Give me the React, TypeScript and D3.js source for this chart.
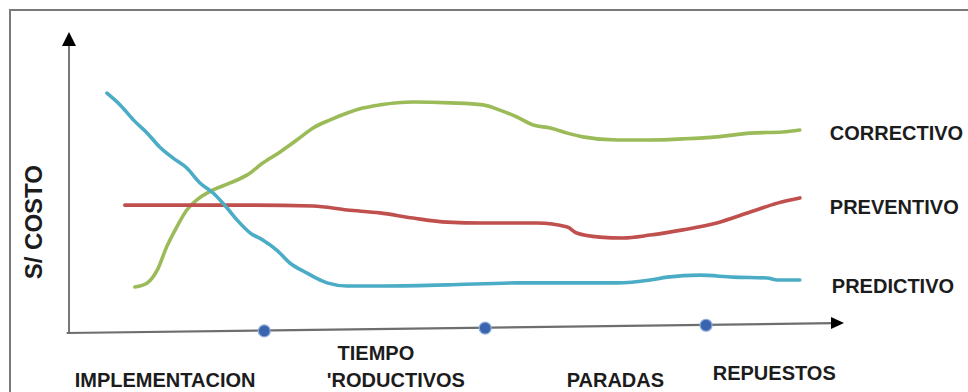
import React from "react";
import * as d3 from "d3";

// ---------- data (x in 0..100 along the time axis, y in 0..100 cost) ----------
const correctivoX = [8.5, 10.1, 11.4, 12.6, 13.9, 15.2, 16.5, 18.6, 20.8, 23.0, 25.0, 27.2, 29.4, 31.5, 33.7, 35.9, 37.9, 40.1, 44.4, 49.2, 53.4, 55.6, 57.8, 59.9, 62.1, 64.3, 66.3, 70.7, 75.0, 79.2, 83.6, 87.9, 92.1, 94.3];
const correctivoY = [16.0, 17.4, 21.9, 29.9, 36.8, 42.7, 46.2, 49.7, 52.1, 54.9, 59.0, 62.8, 67.0, 71.2, 74.0, 76.4, 78.1, 79.2, 80.2, 79.9, 79.2, 77.4, 75.0, 72.2, 71.2, 69.4, 68.1, 67.0, 67.0, 67.4, 68.1, 69.4, 69.8, 70.5];

const preventivoX = [7.2, 14.3, 23.0, 31.5, 35.9, 40.1, 44.4, 48.8, 53.4, 60.4, 64.3, 65.5, 68.5, 71.5, 75.0, 79.2, 83.6, 87.9, 91.4, 94.3];
const preventivoY = [44.4, 44.4, 44.4, 44.1, 42.7, 41.7, 39.9, 38.5, 38.2, 38.2, 36.8, 34.7, 33.3, 33.0, 34.0, 35.8, 38.2, 42.0, 45.1, 46.9];

const predictivoX = [4.9, 6.6, 8.3, 10.1, 11.7, 13.4, 15.2, 16.9, 18.6, 20.4, 21.7, 23.4, 25.0, 26.8, 28.5, 30.7, 32.4, 33.3, 35.9, 40.1, 48.8, 57.8, 66.3, 70.7, 75.0, 77.2, 81.4, 85.7, 90.1, 91.4, 94.3];
const predictivoY = [83.3, 79.2, 74.0, 69.4, 64.6, 60.8, 57.3, 52.1, 48.6, 43.4, 39.2, 34.7, 32.3, 28.8, 24.3, 20.8, 18.4, 17.4, 16.3, 16.3, 16.7, 17.4, 17.4, 17.4, 18.4, 19.4, 20.1, 19.4, 19.1, 18.4, 18.4];

const seriesNames = ["CORRECTIVO", "PREVENTIVO", "PREDICTIVO"];
const seriesColors = ["#9bbb59", "#c0504d", "#4bacc6"];

const axisDots = [25.2, 53.7, 82.2];
const categoryCenters = [12.4, 39.6, 70.5, 91.0];
const categoryLines = [["IMPLEMENTACION"], ["TIEMPO", "'RODUCTIVOS"], ["PARADAS"], ["REPUESTOS"]];

const yLabel = "S/ COSTO";

// ---------- layout ----------
const W = 968;
const H = 392;
const FONT = "'Liberation Sans', Arial, sans-serif";

export default function App() {
  const x = d3.scaleLinear().domain([0, 100]).range([69, 844]);
  const y = d3.scaleLinear().domain([0, 100]).range([333, 45]);

  const axisLeftY = 333;
  const axisRightY = 323;
  const axisStartX = x(-0.3);
  const axisEndX = x(100);
  const axisYAt = (px: number) =>
    axisLeftY + ((px - axisStartX) / (axisEndX - axisStartX)) * (axisRightY - axisLeftY);

  const line = d3
    .line<[number, number]>()
    .x((d) => x(d[0]))
    .y((d) => y(d[1]))
    .curve(d3.curveMonotoneX);

  const series = [
    d3.zip(correctivoX, correctivoY) as [number, number][],
    d3.zip(preventivoX, preventivoY) as [number, number][],
    d3.zip(predictivoX, predictivoY) as [number, number][],
  ];

  const labelOffsets = [
    { dx: 11, dy: 6 },
    { dx: 11, dy: 12 },
    { dx: 13, dy: 9 },
  ];

  const catBaselines = [[387], [360, 387], [387], [380]];
  const catAnchors = ["middle", "middle", "middle", "middle"];

  const yTop = y(100);
  const ax = x(0);

  return (
    <svg
      width={W}
      height={H}
      style={{ position: "absolute", left: 0, top: 0, background: "#fff" }}
      fontFamily={FONT}
    >
      <rect x={0} y={0} width={W} height={H} fill="#ffffff" />
      {/* frame */}
      <rect x={10} y={10} width={W + 40} height={H + 40} fill="none" stroke="#7a7a7a" strokeWidth={2} />

      {/* y axis */}
      <line x1={ax} x2={ax} y1={axisLeftY} y2={yTop} stroke="#555" strokeWidth={1.6} />
      <path d={`M${ax},${yTop - 13} L${ax - 7},${yTop + 1} L${ax + 7},${yTop + 1} Z`} fill="#000" />

      {/* x axis */}
      <line
        x1={axisStartX}
        y1={axisLeftY}
        x2={axisEndX - 10}
        y2={axisYAt(axisEndX - 10)}
        stroke="#6e6e6e"
        strokeWidth={2.2}
      />
      <path
        d={`M${axisEndX},${axisRightY} L${axisEndX - 13},${axisRightY - 6} L${axisEndX - 13},${axisRightY + 6} Z`}
        fill="#000"
      />
      {axisDots.map((d, i) => (
        <circle
          key={i}
          cx={x(d)}
          cy={axisYAt(x(d)) + 0.5}
          r={6}
          fill="#3a64ae"
          stroke="#8eaedb"
          strokeWidth={1.2}
        />
      ))}

      {/* series lines */}
      {series.map((s, i) => (
        <path
          key={i}
          d={line(s) || ""}
          fill="none"
          stroke={seriesColors[i]}
          strokeWidth={3.6}
          strokeLinejoin="round"
          strokeLinecap="round"
        />
      ))}

      {/* series labels */}
      {series.map((s, i) => {
        const last = s[s.length - 1];
        return (
          <text
            key={i}
            x={x(last[0]) + 30 + labelOffsets[i].dx - 11}
            y={y(last[1]) + labelOffsets[i].dy + 4}
            fontSize={20}
            fontWeight="bold"
            fill="#1c1c1c"
          >
            {seriesNames[i]}
          </text>
        );
      })}

      {/* category labels */}
      {categoryLines.map((lines, i) =>
        lines.map((t, j) => (
          <text
            key={`${i}-${j}`}
            x={x(categoryCenters[i]) + (i === 1 && j === 1 ? 20 : 0)}
            y={catBaselines[i][j]}
            textAnchor={catAnchors[i] as any}
            fontSize={20}
            fontWeight="bold"
            fill="#1c1c1c"
          >
            {t}
          </text>
        ))
      )}

      {/* y label */}
      <text
        transform={`translate(42, ${y(38.5)}) rotate(-90)`}
        textAnchor="middle"
        fontSize={24}
        fontWeight="bold"
        fill="#1c1c1c"
      >
        {yLabel}
      </text>
    </svg>
  );
}
